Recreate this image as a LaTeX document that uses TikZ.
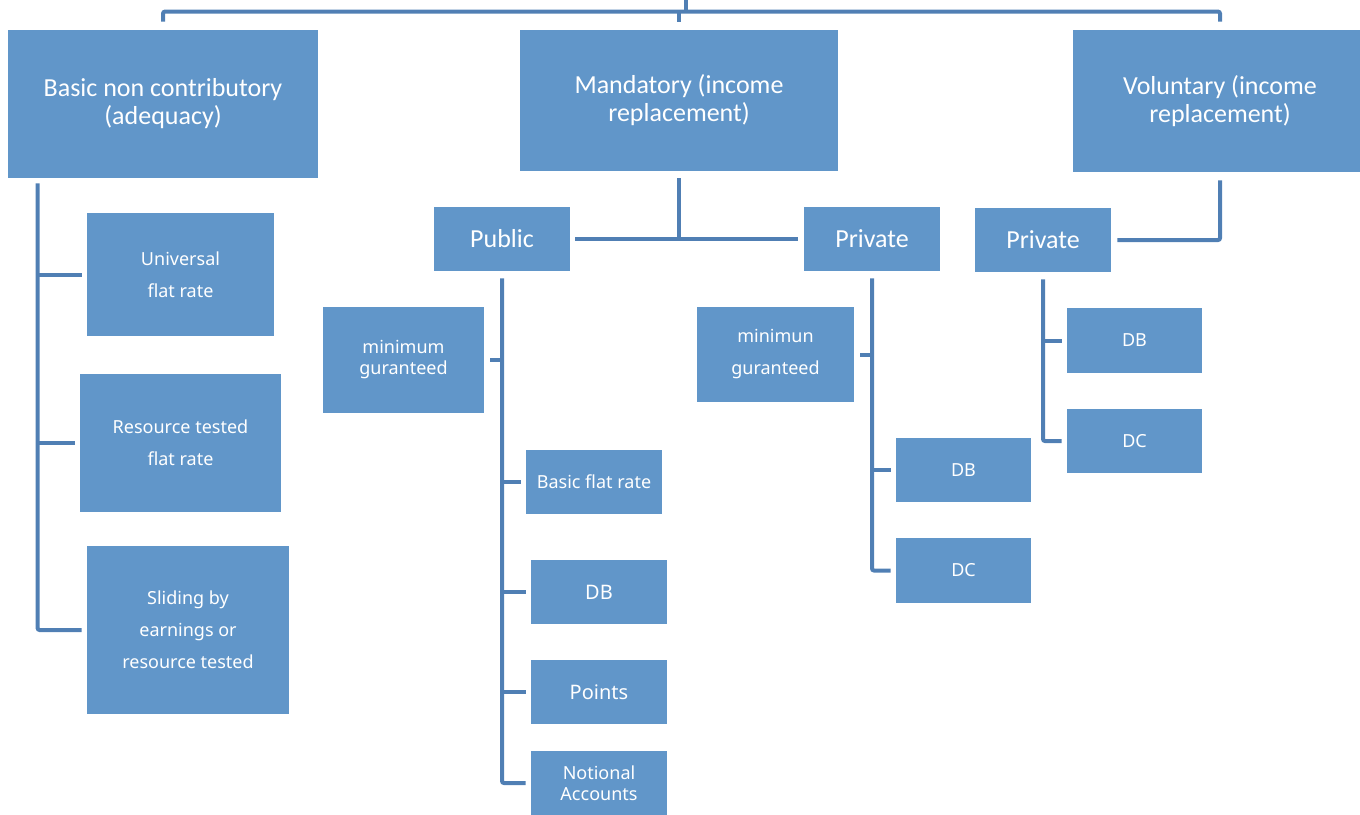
\documentclass[tikz,border=0pt]{standalone}
\usepackage{fontspec}
\setmainfont{Carlito}
\newfontfamily\smallfont{Noto Sans}
\usetikzlibrary{calc}

\definecolor{boxblue}{RGB}{97,150,201}
\definecolor{lineblue}{RGB}{80,127,180}

\tikzset{
    box/.style={rectangle, fill=boxblue, text=white, align=center, inner sep=0pt},
    big/.style={box, font=\fontsize{13}{14}\selectfont},
    small/.style={box, font=\smallfont\fontsize{9}{16}\selectfont},
    tight/.style={box, font=\smallfont\fontsize{9}{10.5}\selectfont},
    link/.style={draw=lineblue, line width=2pt, rounded corners=1pt},
}

\begin{document}
\begin{tikzpicture}[x=0.5pt, y=-0.5pt]
        \useasboundingbox (0,0) rectangle (1360,814);

        % top level
        \node[big, minimum width=155pt, minimum height=74pt] (basic) at (163,104) {Basic non contributory\\(adequacy)};
        \node[big, minimum width=159pt, minimum height=70.5pt] (mandatory) at (679,100.5) {Mandatory (income\\replacement)};
        \node[big, minimum width=147pt, minimum height=71pt] (voluntary) at (1220,101) {Voluntary (income\\replacement)};

        % second level
        \node[big, minimum width=68pt, minimum height=32pt] (public) at (502,239) {Public};
        \node[big, minimum width=68pt, minimum height=32pt] (privM) at (872,239) {Private};
        \node[big, minimum width=68pt, minimum height=32pt] (privV) at (1043,240) {Private};

        % basic branch
        \node[small, minimum width=93.5pt, minimum height=61.5pt] (univ) at (180.5,274.5) {Universal\\flat rate};
        \node[small, minimum width=100.5pt, minimum height=69pt] (restest) at (180.5,443) {Resource tested\\flat rate};
        \node[small, minimum width=101pt, minimum height=84pt] (sliding) at (188,630) {Sliding by\\earnings or\\resource tested};

        % public branch
        \node[tight, minimum width=80.5pt, minimum height=53pt] (minpub) at (403.5,360) {minimum\\guranteed};
        \node[small, minimum width=68pt, minimum height=32pt] (flat) at (594,482) {Basic flat rate};
        \node[small, font=\smallfont\fontsize{10}{12}\selectfont, minimum width=68pt, minimum height=32pt] (dbpub) at (599,592) {DB};
        \node[small, font=\smallfont\fontsize{10}{12}\selectfont, minimum width=68pt, minimum height=32pt] (points) at (599,692) {Points};
        \node[tight, minimum width=68pt, minimum height=32pt] (notional) at (599,783) {Notional\\Accounts};

        % mandatory private branch
        \node[small, minimum width=78.5pt, minimum height=47.5pt] (minpriv) at (775.5,354.5) {minimun\\guranteed};
        \node[small, minimum width=67.5pt, minimum height=32pt] (dbM) at (963.5,470) {DB};
        \node[small, minimum width=67.5pt, minimum height=32.5pt] (dcM) at (963.5,570.5) {DC};

        % voluntary private branch
        \node[small, minimum width=67.5pt, minimum height=32.5pt] (dbV) at (1134.5,340.5) {DB};
        \node[small, minimum width=67.5pt, minimum height=32pt] (dcV) at (1134.5,441) {DC};

        % connectors
        \coordinate (root) at (686,0);
        \draw[link] (root) -- ++(0,12);
        \draw[link] ($(basic.north)+(0,-8)$) |- ($(voluntary.north)+(0,-18)$) -- ($(voluntary.north)+(0,-8)$);
        \draw[link] ($(mandatory.north)+(0,-8)$) -- ++(0,-10);

        \coordinate (bspine) at ($(basic.south west)+(30,5)$);
        \draw[link] (bspine) |- ($(sliding.west)+(-5,0)$);
        \draw[link] (bspine |- univ.west) -- ($(univ.west)+(-5,0)$);
        \draw[link] (bspine |- restest.west) -- ($(restest.west)+(-5,0)$);

        \draw[link] ($(mandatory.south)+(0,7)$) -- (mandatory.south |- public.east);
        \draw[link] ($(public.east)+(5,0)$) -- ($(privM.west)+(-6,0)$);
        \draw[link] ($(voluntary.south)+(0,8)$) |- ($(privV.east)+(6,0)$);

        \draw[link] ($(public.south)+(0,7)$) |- ($(notional.west)+(-5,0)$);
        \draw[link] ($(minpub.east)+(6,0)$) -- (public.south |- minpub.east);
        \draw[link] (public.south |- flat.west) -- ($(flat.west)+(-5,0)$);
        \draw[link] (public.south |- dbpub.west) -- ($(dbpub.west)+(-5,0)$);
        \draw[link] (public.south |- points.west) -- ($(points.west)+(-5,0)$);

        \draw[link] ($(privM.south)+(0,7)$) |- ($(dcM.west)+(-5,0)$);
        \draw[link] ($(minpriv.east)+(6,0)$) -- (privM.south |- minpriv.east);
        \draw[link] (privM.south |- dbM.west) -- ($(dbM.west)+(-5,0)$);

        \draw[link] ($(privV.south)+(0,7)$) |- ($(dcV.west)+(-5,0)$);
        \draw[link] (privV.south |- dbV.west) -- ($(dbV.west)+(-5,0)$);
\end{tikzpicture}
\end{document}
